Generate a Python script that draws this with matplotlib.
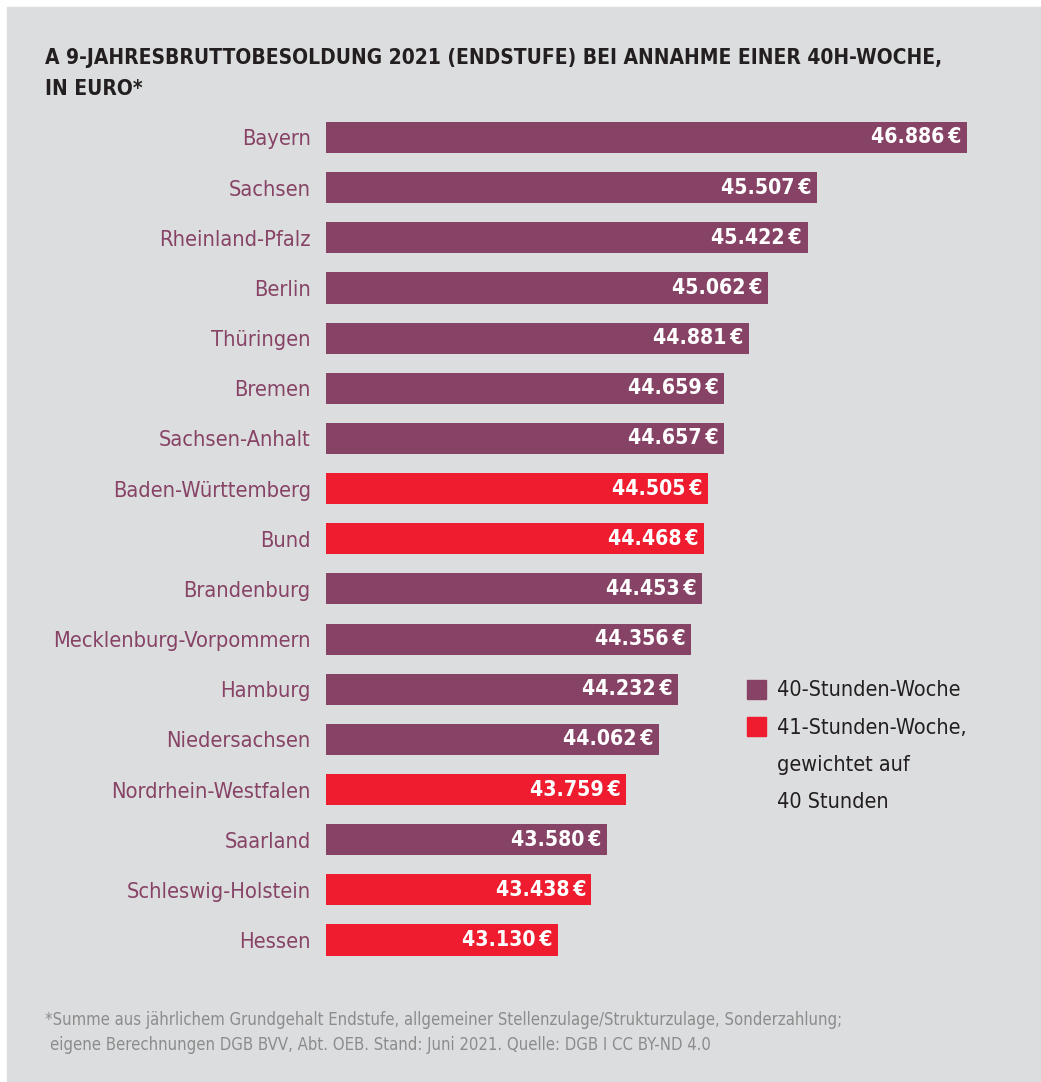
import matplotlib.pyplot as plt
from matplotlib.patches import Rectangle

laender = ['Bayern', 'Sachsen', 'Rheinland-Pfalz', 'Berlin', 'Thüringen', 'Bremen',
           'Sachsen-Anhalt', 'Baden-Württemberg', 'Bund', 'Brandenburg',
           'Mecklenburg-Vorpommern', 'Hamburg', 'Niedersachsen', 'Nordrhein-Westfalen',
           'Saarland', 'Schleswig-Holstein', 'Hessen']
werte = [46886, 45507, 45422, 45062, 44881, 44659, 44657, 44505, 44468, 44453,
         44356, 44232, 44062, 43759, 43580, 43438, 43130]
woche41 = [False, False, False, False, False, False, False, True, True, False,
           False, False, False, True, False, True, True]

lila = '#874366'
rot = '#ee1c2e'
grau = '#dcdddf'

plt.rcParams['font.family'] = ['DejaVu Sans']
plt.rcParams['font.stretch'] = 'condensed'

W, H = 1041, 1082
fig = plt.figure(figsize=(W / 100, H / 100), dpi=100, facecolor='white')
fig.patches.append(Rectangle((7 / W, 0), 1 - 7 / W, 1 - 7 / H,
                             transform=fig.transFigure, color=grau, zorder=-10))

top, bot = 112.4, 965.1
ax = fig.add_axes([326 / W, 1 - bot / H, 674 / W, (bot - top) / H])
ax.set_facecolor('none')
xmin = 41000
ax.set_xlim(xmin, xmin + 674 / 0.10889)
ax.set_ylim(len(laender) - 0.5, -0.5)

farben = [rot if r else lila for r in woche41]
ypos = list(range(len(laender)))
ax.barh(ypos, [w - xmin for w in werte], left=xmin, height=0.62, color=farben)

for y, w in zip(ypos, werte):
    txt = f'{w:,}'.replace(',', '.') + '\u2009€'
    ax.text(w - 50, y, txt, ha='right', va='center', color='white',
            fontsize=15.2, fontweight='bold')

ax.set_yticks(ypos)
ax.set_yticklabels(laender, fontsize=15.7, color=lila)
ax.tick_params(axis='y', length=0, pad=11)
ax.set_xticks([])
for s in ax.spines.values():
    s.set_visible(False)

fig.text(45 / W, 1 - 58 / H, 'A 9-JAHRESBRUTTOBESOLDUNG 2021 (ENDSTUFE) BEI ANNAHME EINER 40H-WOCHE,',
         fontsize=15, fontweight='bold', color='#231f20', va='center')
fig.text(45 / W, 1 - 89 / H, 'IN EURO*', fontsize=15, fontweight='bold',
         color='#231f20', va='center')

# Legende
fig.patches.append(Rectangle((747 / W, 1 - 699 / H), 19 / W, 19 / H,
                             transform=fig.transFigure, color=lila))
fig.patches.append(Rectangle((747 / W, 1 - 736 / H), 19 / W, 19 / H,
                             transform=fig.transFigure, color=rot))
leg = ['40-Stunden-Woche', '41-Stunden-Woche,', 'gewichtet auf', '40 Stunden']
for t, yy in zip(leg, [690, 728, 765, 802]):
    fig.text(777 / W, 1 - yy / H, t, fontsize=15.5, color='#231f20', va='center')

fig.text(45 / W, 1 - 1020 / H,
         '*Summe aus jährlichem Grundgehalt Endstufe, allgemeiner Stellenzulage/Strukturzulage, Sonderzahlung;',
         fontsize=12, color='#8c8c8c', va='center')
fig.text(50 / W, 1 - 1045 / H,
         'eigene Berechnungen DGB BVV, Abt. OEB. Stand: Juni 2021. Quelle: DGB I CC BY-ND 4.0',
         fontsize=12, color='#8c8c8c', va='center')

fig.savefig('out.png', dpi=100, facecolor='white')
